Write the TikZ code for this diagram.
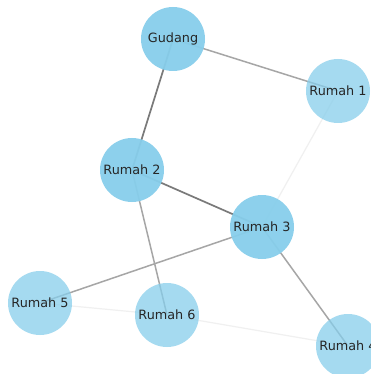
\documentclass[tikz,border=0pt]{standalone}
\usepackage{fontspec}
\setmainfont{DejaVu Sans}
\definecolor{skyb}{RGB}{135,206,235}
\begin{document}
\begin{tikzpicture}[x=1pt,y=-1pt,
  hub/.style={circle,fill=skyb,fill opacity=0.95,text opacity=1,minimum size=64pt,inner sep=0pt,font=\fontsize{12.8}{15}\selectfont,text=black!85},
  house/.style={hub,fill opacity=0.75},
  strong/.style={draw=black!52,line width=1.7pt},
  mid/.style={draw=black!35,line width=1.5pt},
  weak/.style={draw=black!6,line width=1.2pt}]
\useasboundingbox[fill=white] (0,0) rectangle (370,374);
\coordinate (g) at (173,39);
\coordinate (r1) at (338,91);
\coordinate (r2) at (132,170);
\coordinate (r3) at (262,227);
\coordinate (r4) at (348,346);
\coordinate (r5) at (40,303);
\coordinate (r6) at (167,315);
\draw[strong] (g) -- (r2);
\draw[strong] (r2) -- (r3);
\draw[mid] (g) -- (r1);
\draw[mid] (r2) -- (r6);
\draw[mid] (r3) -- (r5);
\draw[mid] (r3) -- (r4);
\draw[weak] (r1) -- (r3);
\draw[weak] (r5) -- (r6);
\draw[weak] (r6) -- (r4);
\node[hub] (G) at (g) {Gudang};
\node[house] (R1) at (r1) {Rumah 1};
\node[hub] (R2) at (r2) {Rumah 2};
\node[hub] (R3) at (r3) {Rumah 3};
\node[house] (R4) at (r4) {Rumah 4};
\node[house] (R5) at (r5) {Rumah 5};
\node[house] (R6) at (r6) {Rumah 6};
\end{tikzpicture}
\end{document}
